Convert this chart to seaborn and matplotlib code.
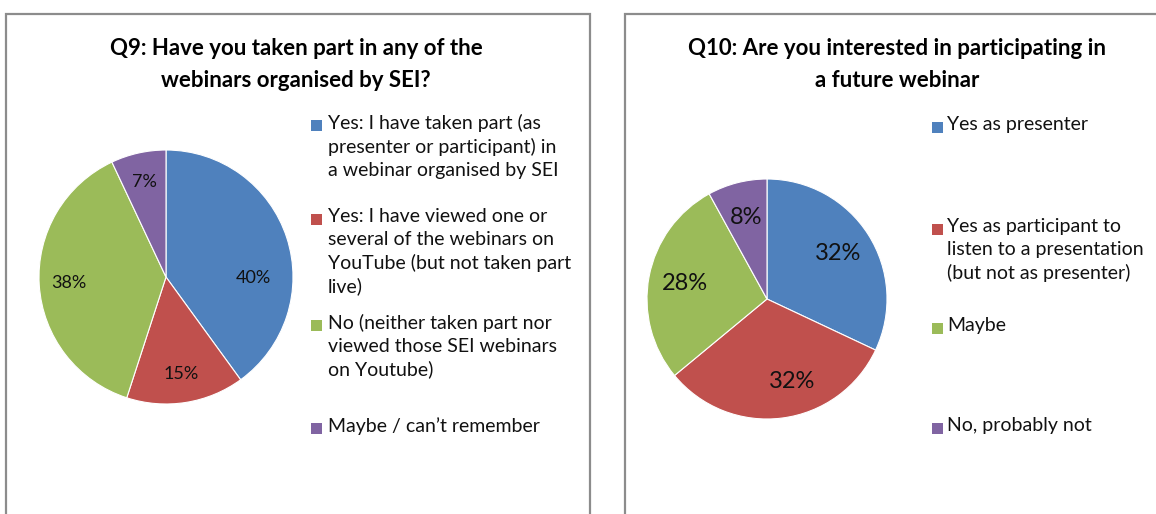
"""
Webinar survey pies (Q9 / Q10), Excel-style layout.
"""

import matplotlib
matplotlib.use("Agg")
import matplotlib.pyplot as plt
from matplotlib.patches import Rectangle
import seaborn as sns

# Data
q9_title = "Q9: Have you taken part in any of the\nwebinars organised by SEI?"
q9_labels = [
    "Yes: I have taken part (as\npresenter or participant) in\na webinar organised by SEI",
    "Yes: I have viewed one or\nseveral of the webinars on\nYouTube (but not taken part\nlive)",
    "No (neither taken part nor\nviewed those SEI webinars\non Youtube)",
    "Maybe / can\u2019t remember",
]
q9_values = [40, 15, 38, 7]

q10_title = "Q10: Are you interested in participating in\na future webinar"
q10_labels = [
    "Yes as presenter",
    "Yes as participant to\nlisten to a presentation\n(but not as presenter)",
    "Maybe",
    "No, probably not",
]
q10_values = [32, 32, 28, 8]

# Style
sns.set_theme(style="white")
plt.rcParams['font.family'] = ['Lato', 'DejaVu Sans']
colors = ["#4F81BD", "#C0504D", "#9BBB59", "#8064A2"]

W, H = 1156, 514
fig = plt.figure(figsize=(W / 100, H / 100), dpi=100)
fig.patch.set_facecolor("white")


def fx(px):
    return px / W


def fy(py):
    return 1 - py / H


# panel borders
for x0, x1 in [(6, 590), (625, 1175)]:
    fig.add_artist(Rectangle((fx(x0), -0.1), fx(x1 - x0), fy(14) + 0.1,
                             transform=fig.transFigure, fill=False,
                             edgecolor="#8C8C8C", linewidth=1.6))

# Excel "best fit" moves a few percentage labels off the mid-angle
panels = [
    dict(title=q9_title, tx=296, labels=q9_labels, values=q9_values,
         cx=166, cy=277, r=127, pctdist=0.77, pctsize=13,
         nudge={0: (0.685, -0.01)},
         mx=311, lx=328, ly=[126, 220, 326, 429]),
    dict(title=q10_title, tx=897, labels=q10_labels, values=q10_values,
         cx=767, cy=299, r=120, pctdist=0.70, pctsize=17,
         nudge={1: (0.21, -0.69)},
         mx=932, lx=947, ly=[128, 230, 329, 429]),
]

for p in panels:
    r = p["r"]
    ax = fig.add_axes([fx(p["cx"] - r), fy(p["cy"] + r), fx(2 * r), 2 * r / H])
    wedges, texts, autotexts = ax.pie(
        p["values"], colors=colors, startangle=90, counterclock=False,
        autopct="%d%%", pctdistance=p["pctdist"],
        wedgeprops=dict(edgecolor="white", linewidth=0.8),
        textprops=dict(fontsize=p["pctsize"], color="#111111"),
    )
    for i, pos in p["nudge"].items():
        autotexts[i].set_position(pos)
    ax.set_xlim(-1, 1)
    ax.set_ylim(-1, 1)
    ax.set_aspect("equal")
    ax.axis("off")

    fig.text(fx(p["tx"]), fy(38), p["title"], ha="center", va="top",
             fontsize=16, fontweight="bold", linespacing=1.65, color="black")

    # legend, marker aligned with first line like Excel
    for lab, col, y in zip(p["labels"], colors, p["ly"]):
        fig.add_artist(Rectangle((fx(p["mx"]), fy(y + 5)), fx(11), 11 / H,
                                 transform=fig.transFigure, facecolor=col,
                                 edgecolor="none"))
        fig.text(fx(p["lx"]), fy(y - 12), lab, ha="left", va="top",
                 fontsize=14, linespacing=1.4, color="#111111")

fig.savefig("out.png", dpi=100)
